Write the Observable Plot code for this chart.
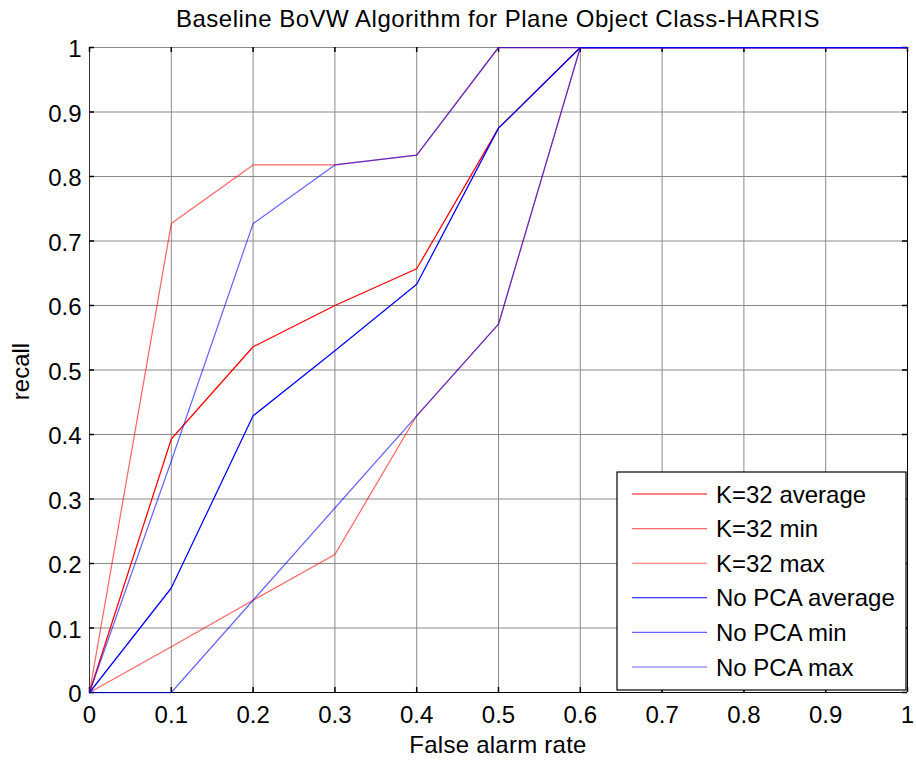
<!DOCTYPE html>
<html>
<head>
<meta charset="utf-8">
<script src="https://cdn.jsdelivr.net/npm/d3@7"></script>
<script src="https://cdn.jsdelivr.net/npm/@observablehq/plot@0.6"></script>
<style>
  html, body { margin: 0; padding: 0; background: #fff; }
  svg { display: block; }
</style>
</head>
<body>
<div id="chart"></div>
<script>
const titleText = "Baseline BoVW Algorithm for Plane Object Class-HARRIS";
const xLabel = "False alarm rate";
const yLabel = "recall";

const falseAlarm = [0, 0.1, 0.2, 0.3, 0.4, 0.5, 0.6, 0.7, 0.8, 0.9, 1];
const k32Average = [0, 0.393, 0.536, 0.600, 0.657, 0.875, 1, 1, 1, 1, 1];
const k32Min     = [0, 0.071, 0.143, 0.214, 0.429, 0.571, 1, 1, 1, 1, 1];
const k32Max     = [0, 0.727, 0.818, 0.818, 0.833, 1, 1, 1, 1, 1, 1];
const noPcaAverage = [0, 0.162, 0.429, 0.530, 0.633, 0.875, 1, 1, 1, 1, 1];
const noPcaMin     = [0, 0, 0.143, 0.286, 0.429, 0.571, 1, 1, 1, 1, 1];
const noPcaMax     = [0, 0.359, 0.727, 0.818, 0.833, 1, 1, 1, 1, 1, 1];

const seriesNames = ["K=32 average", "K=32 min", "K=32 max", "No PCA average", "No PCA min", "No PCA max"];
const seriesValues = [k32Average, k32Min, k32Max, noPcaAverage, noPcaMin, noPcaMax];
const seriesColors = ["#ff0000", "#ff0000", "#ff0000", "#0000ff", "#0000ff", "#0000ff"];
const seriesOpacity = [1, 0.6, 0.6, 1, 0.6, 0.6];

const xTicks = [0, 0.1, 0.2, 0.3, 0.4, 0.5, 0.6, 0.7, 0.8, 0.9, 1];
const yTicks = [0, 0.1, 0.2, 0.3, 0.4, 0.5, 0.6, 0.7, 0.8, 0.9, 1];
const tickLabels = ["0", "0.1", "0.2", "0.3", "0.4", "0.5", "0.6", "0.7", "0.8", "0.9", "1"];

const W = 916, H = 762;
const mL = 89, mR = 9, mT = 47, mB = 70;
const plotW = W - mL - mR, plotH = H - mT - mB;
const FONT = "'Liberation Sans', Arial, Helvetica, sans-serif";
const FS = 24;

const rows = [];
seriesNames.forEach((name, i) => {
  falseAlarm.forEach((x, j) => rows.push({series: name, x, y: seriesValues[i][j]}));
});

const fmt = d => tickLabels[xTicks.indexOf(d)];

const lineMarks = seriesNames.map((name, i) =>
  Plot.line(rows.filter(r => r.series === name), {
    x: "x", y: "y",
    stroke: seriesColors[i], strokeOpacity: seriesOpacity[i], strokeWidth: 1.25
  })
);

const chart = Plot.plot({
  width: W, height: H,
  marginLeft: mL, marginRight: mR, marginTop: mT, marginBottom: mB,
  style: {fontFamily: FONT, fontSize: FS + "px", color: "#000", background: "#fff"},
  x: {domain: [0, 1]},
  y: {domain: [0, 1]},
  marks: [
    Plot.gridX(xTicks.slice(1, -1), {stroke: "#8a8a8a", strokeOpacity: 1, strokeWidth: 1}),
    Plot.gridY(yTicks.slice(1), {stroke: "#8a8a8a", strokeOpacity: 1, strokeWidth: 1}),
    Plot.ruleY([0], {stroke: "#000"}),
    Plot.ruleX([0], {stroke: "#333"}),
    Plot.ruleX([1], {stroke: "#000"}),
    Plot.ruleX(xTicks, {x: d => d, insetTop: plotH - 5, stroke: "#000", strokeWidth: 1.5}),
    Plot.ruleX(xTicks, {x: d => d, insetBottom: plotH - 5, stroke: "#000", strokeWidth: 1.5}),
    Plot.ruleY(yTicks, {y: d => d, insetRight: plotW - 5, stroke: "#000", strokeWidth: 1.5}),
    Plot.ruleY(yTicks, {y: d => d, insetLeft: plotW - 5, stroke: "#000", strokeWidth: 1.5}),
    Plot.axisX(xTicks, {tickSize: 0, tickPadding: 13, tickFormat: fmt, label: null, fontSize: FS}),
    Plot.axisY(yTicks, {tickSize: 0, tickPadding: 8, dy: 2, tickFormat: fmt, label: null, fontSize: FS}),
    ...lineMarks
  ]
});

const svg = d3.select(chart);
svg.style("overflow", "visible");

svg.append("text")
  .attr("x", mL + plotW / 2).attr("y", 27)
  .attr("text-anchor", "middle")
  .attr("font-family", FONT).attr("font-size", FS)
  .attr("letter-spacing", "0.5px")
  .attr("fill", "#000")
  .text(titleText);

svg.append("text")
  .attr("x", mL + plotW / 2).attr("y", 753)
  .attr("text-anchor", "middle")
  .attr("font-family", FONT).attr("font-size", FS)
  .attr("letter-spacing", "0.25px")
  .attr("fill", "#000")
  .text(xLabel);

svg.append("text")
  .attr("transform", `translate(29, ${mT + plotH / 2 + 2}) rotate(-90)`)
  .attr("text-anchor", "middle")
  .attr("font-family", FONT).attr("font-size", FS)
  .attr("fill", "#000")
  .text(yLabel);

const lg = svg.append("g").attr("text-anchor", "start");
const lx = 617, ly = 472, lw = 289, lh = 218;
lg.append("rect").attr("x", lx).attr("y", ly).attr("width", lw).attr("height", lh)
  .attr("fill", "#fff").attr("stroke", "#000").attr("stroke-width", 1.2);
seriesNames.forEach((name, i) => {
  const cy = ly + 22 + i * 34.6;
  lg.append("line").attr("x1", 632).attr("x2", 707).attr("y1", cy).attr("y2", cy)
    .attr("stroke", seriesColors[i]).attr("stroke-opacity", seriesOpacity[i]).attr("stroke-width", 1.1);
  lg.append("text").attr("x", 716).attr("y", cy).attr("dy", "0.36em")
    .attr("text-anchor", "start")
    .attr("font-family", FONT).attr("font-size", FS).attr("fill", "#000")
    .text(name);
});

document.getElementById("chart").appendChild(chart);
</script>
</body>
</html>
